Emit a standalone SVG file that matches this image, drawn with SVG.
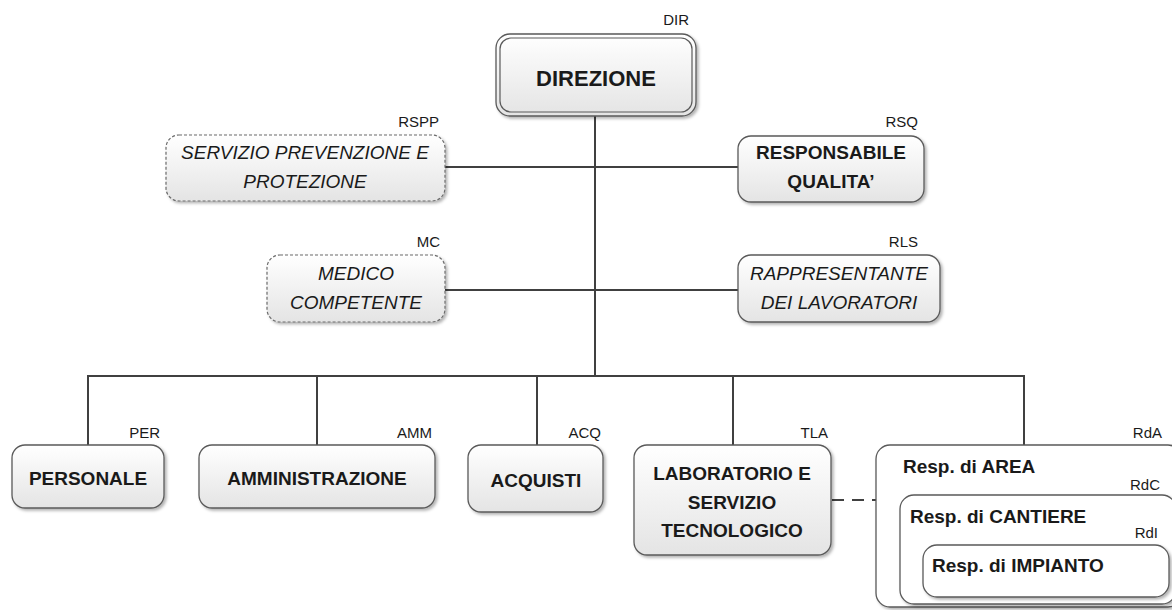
<svg xmlns="http://www.w3.org/2000/svg" width="1172" height="610" viewBox="0 0 1172 610">
<defs>
<linearGradient id="g" x1="0" y1="0" x2="0" y2="1">
<stop offset="0" stop-color="#ffffff"/>
<stop offset="1" stop-color="#e4e4e4"/>
</linearGradient>
<filter id="sh" x="-10%" y="-10%" width="120%" height="130%">
<feDropShadow dx="2" dy="2" stdDeviation="1.5" flood-color="#000" flood-opacity="0.3"/>
</filter>
<style>
.box{fill:url(#g);stroke:#5a5a5a;stroke-width:1.3;filter:url(#sh)}
.dbox{fill:url(#g);stroke:#6a6a6a;stroke-width:1.2;stroke-dasharray:3 2;filter:url(#sh)}
.wbox{fill:#ffffff;stroke:#5a5a5a;stroke-width:1.3;filter:url(#sh)}
.ln{stroke:#404040;stroke-width:2;fill:none}
.dash{stroke:#404040;stroke-width:2;fill:none;stroke-dasharray:12 8}
text{font-family:"Liberation Sans",Arial,sans-serif;fill:#1a1a1a}
.b{font-weight:bold;font-size:19px;text-anchor:middle}
.i{font-style:italic;font-size:19px;text-anchor:middle}
.t{font-size:15px;text-anchor:end}
.bl{font-weight:bold;font-size:19px}
</style>
</defs>
<rect width="1172" height="610" fill="#ffffff"/>
<g id="connectors">
<line class="ln" x1="595" y1="116" x2="595" y2="376"/>
<line class="ln" x1="445" y1="167" x2="738" y2="167"/>
<line class="ln" x1="445" y1="290" x2="738" y2="290"/>
<line class="ln" x1="87" y1="376" x2="1025" y2="376"/>
<line class="ln" x1="88" y1="376" x2="88" y2="445"/>
<line class="ln" x1="317" y1="376" x2="317" y2="445"/>
<line class="ln" x1="537" y1="376" x2="537" y2="445"/>
<line class="ln" x1="733" y1="376" x2="733" y2="445"/>
<line class="ln" x1="1024" y1="376" x2="1024" y2="445"/>
<line class="dash" x1="832" y1="500" x2="876" y2="500"/>
</g>
<g id="DIR">
<rect class="box" x="496" y="34" width="200" height="82" rx="14"/>
<rect x="500" y="38" width="192" height="74" rx="11" fill="none" stroke="#5a5a5a" stroke-width="1.2"/>
<text class="b" x="596" y="86" style="font-size:22px">DIREZIONE</text>
<text class="t" x="689" y="25">DIR</text>
</g>
<g id="RSPP">
<rect class="dbox" x="166" y="135" width="279" height="66" rx="13"/>
<text class="i" x="305" y="159">SERVIZIO PREVENZIONE E</text>
<text class="i" x="305" y="188">PROTEZIONE</text>
<text class="t" x="439" y="127">RSPP</text>
</g>
<g id="RSQ">
<rect class="box" x="738" y="136" width="186" height="66" rx="13"/>
<text class="b" x="831" y="159">RESPONSABILE</text>
<text class="b" x="831" y="188">QUALITA’</text>
<text class="t" x="918" y="127">RSQ</text>
</g>
<g id="MC">
<rect class="dbox" x="267" y="255" width="178" height="67" rx="13"/>
<text class="i" x="356" y="280">MEDICO</text>
<text class="i" x="356" y="309">COMPETENTE</text>
<text class="t" x="440" y="247">MC</text>
</g>
<g id="RLS">
<rect class="box" x="738" y="255" width="202" height="67" rx="13"/>
<text class="i" x="839" y="280">RAPPRESENTANTE</text>
<text class="i" x="839" y="309">DEI LAVORATORI</text>
<text class="t" x="918" y="247">RLS</text>
</g>
<g id="PER">
<rect class="box" x="12" y="445" width="152" height="63" rx="13"/>
<text class="b" x="88" y="485">PERSONALE</text>
<text class="t" x="160" y="438">PER</text>
</g>
<g id="AMM">
<rect class="box" x="199" y="445" width="236" height="63" rx="13"/>
<text class="b" x="317" y="485">AMMINISTRAZIONE</text>
<text class="t" x="432" y="438">AMM</text>
</g>
<g id="ACQ">
<rect class="box" x="468" y="445" width="135" height="67" rx="13"/>
<text class="b" x="536" y="487">ACQUISTI</text>
<text class="t" x="601" y="438">ACQ</text>
</g>
<g id="TLA">
<rect class="box" x="634" y="445" width="197" height="110" rx="13"/>
<text class="b" x="732" y="480">LABORATORIO E</text>
<text class="b" x="732" y="509">SERVIZIO</text>
<text class="b" x="732" y="537">TECNOLOGICO</text>
<text class="t" x="828" y="438">TLA</text>
</g>
<g id="RdA">
<rect class="wbox" x="876" y="445" width="306" height="162" rx="14"/>
<text class="bl" x="903" y="473">Resp. di AREA</text>
<text class="t" x="1162" y="438">RdA</text>
</g>
<g id="RdC">
<rect class="wbox" x="900" y="495" width="276" height="109" rx="14"/>
<text class="bl" x="910" y="523">Resp. di CANTIERE</text>
<text class="t" x="1160" y="490">RdC</text>
</g>
<g id="RdI">
<rect class="wbox" x="923" y="545" width="246" height="52" rx="14"/>
<text class="bl" x="932" y="572">Resp. di IMPIANTO</text>
<text class="t" x="1158" y="538">RdI</text>
</g>
</svg>
